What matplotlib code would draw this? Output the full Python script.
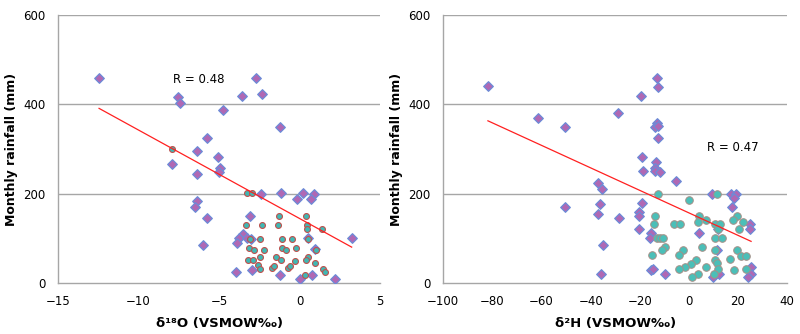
import numpy as np
import matplotlib
matplotlib.use("Agg")
import matplotlib.pyplot as plt

# Data (x = isotope value, y = monthly rainfall mm)
# ------------------------------------------------------------------------------
o18_diam_x = [-12.45, -7.53, -7.40, -2.68, -3.57, -2.33, -4.77, -1.21, -5.72, -6.37,
              -5.04, -7.92, -4.96, -5.00, -6.39, -2.37, -1.17, 0.20, -0.13, 0.92,
              0.69, -6.37, -6.49, -5.72, -3.06, -5.97, -3.51, -3.76, -3.88, -3.24,
              -3.01, 0.55, 0.98, 3.24, -3.94, -2.95, -1.19, 0.05, 0.80, 2.18]
o18_diam_y = [460, 416, 404, 459, 419, 424, 388, 350, 324, 295,
              282, 267, 258, 248, 245, 199, 201, 201, 187, 199,
              187, 184, 171, 146, 150, 84, 109, 101, 89, 101,
              99, 100, 76, 101, 25, 29, 19, 8, 19, 8]

o18_circ_x = [-7.92, -3.24, -2.97, -1.29, 0.42, -3.32, -2.35, -1.34, 0.47, 0.49,
              1.42, -3.07, -2.43, -1.11, -0.47, 0.51, -3.12, -2.81, -2.22, -1.11,
              -0.84, -0.22, 1.02, -2.43, -1.44, 0.55, -3.22, -2.91, -1.17, -0.30,
              0.40, 0.96, -2.60, -2.45, -1.73, -1.60, -0.71, -0.59, 0.36, 1.48, 1.56]
o18_circ_y = [301, 201, 201, 150, 150, 130, 130, 130, 130, 122,
              122, 99, 99, 99, 99, 99, 79, 75, 75, 79,
              75, 79, 75, 58, 59, 59, 51, 51, 51, 50,
              51, 45, 40, 31, 34, 38, 34, 38, 19, 31, 25]

h2_diam_x = [-81.8, -61.4, -50.5, -28.7, -19.4, -12.8, -12.5, -12.8, -13.9, -12.5,
             -12.5, -19.2, -13.2, -13.9, -13.9, -18.5, -11.7, -5.2, -37.1, -35.2,
             -36.1, -19.2, -50.4, -37.1, -20.3, -20.3, -28.3, -20.3, -15.3, -15.7,
             -34.8, 4.3, 9.3, 17.2, 19.1, 18.3, 17.4, 24.9, 24.9, 12.0,
             11.4, -15.5, -14.6, -9.7, -35.7, 10.0, 12.4, 25.3, 25.3, 24.0]
h2_diam_y = [441, 370, 350, 381, 418, 460, 438, 358, 349, 351,
             325, 283, 271, 258, 250, 250, 248, 228, 225, 210,
             178, 180, 170, 154, 160, 150, 146, 120, 111, 101,
             86, 113, 199, 200, 200, 190, 170, 133, 122, 122,
             75, 29, 31, 21, 21, 13, 20, 36, 21, 13]

h2_circ_x = [-12.4, 11.3, 0.1, -13.9, -14.2, -6.0, -3.5, 4.3, 3.6, 7.0,
             10.7, 12.7, 11.8, 19.7, 18.1, 22.2, 20.4, 10.7, 13.5, -13.1,
             -11.7, -10.4, -9.7, -10.8, -2.5, 5.5, 10.7, 19.7, 21.0, 23.4,
             16.8, -15.1, -4.1, 2.8, 0.9, -1.5, -4.1, 6.9, 10.7, 11.4,
             11.8, 18.5, 23.1, 3.6, 1.4, 10.4]
h2_circ_y = [200, 200, 186, 150, 132, 132, 132, 151, 136, 141,
             132, 132, 120, 150, 141, 136, 120, 100, 100, 100,
             100, 100, 81, 75, 75, 81, 75, 75, 61, 61,
             54, 62, 62, 51, 42, 36, 32, 36, 51, 44,
             32, 28, 32, 20, 13, 20]

# linear trend (slope, intercept) and correlation labels
trend_o18 = (-19.8, 144.5)
trend_h2 = (-2.52, 157.0)
r_o18 = "R = 0.48"
r_h2 = "R = 0.47"

# Style
# ------------------------------------------------------------------------------
diam_face = "#B068B4"
diam_edge = "#6C8CD8"
grid_col = "#A6A6A6"

fig = plt.figure(figsize=(8.0, 3.34), dpi=100)
ax1 = fig.add_axes([0.0725, 0.1527, 0.4025, 0.8023])
ax2 = fig.add_axes([0.554, 0.1527, 0.430, 0.8023])


def style_axes(ax, xlim, xticks, xlabel):
    ax.set_xlim(*xlim)
    ax.set_ylim(0, 600)
    ax.set_xticks(xticks)
    ax.set_yticks([0, 200, 400, 600])
    for y in [200, 400, 600]:
        ax.axhline(y, color=grid_col, lw=1.0, zorder=0)
    for s in ["top", "right"]:
        ax.spines[s].set_visible(False)
    ax.spines["left"].set_color(grid_col)
    ax.spines["bottom"].set_color(grid_col)
    ax.spines["left"].set_linewidth(1.0)
    ax.spines["bottom"].set_linewidth(1.0)
    ax.tick_params(length=0, labelsize=8.5, pad=9)
    ax.set_xlabel(xlabel, fontsize=9.5, fontweight="bold", labelpad=6)
    ax.set_ylabel("Monthly rainfall (mm)", fontsize=9, fontweight="bold", labelpad=4)


# left panel: d18O
style_axes(ax1, (-15, 5), [-15, -10, -5, 0, 5], "δ¹⁸O (VSMOW‰)")
ax1.scatter(o18_diam_x, o18_diam_y, marker="D", s=24, facecolor=diam_face,
            edgecolor=diam_edge, linewidth=0.9, zorder=3)
ax1.scatter(o18_circ_x, o18_circ_y, marker="o", s=18, facecolor="#3FB8B4",
            edgecolor="#C0504D", linewidth=0.8, zorder=4)
allx = np.array(o18_diam_x + o18_circ_x)
xs = np.array([allx.min(), allx.max()])
ax1.plot(xs, trend_o18[0] * xs + trend_o18[1], color="#FF2020", lw=0.9, zorder=5)
ax1.text(-6.24, 455, r_o18, fontsize=8.5, ha="center", va="center")

# right panel: d2H
style_axes(ax2, (-100, 40), [-100, -80, -60, -40, -20, 0, 20, 40], "δ²H (VSMOW‰)")
ax2.scatter(h2_diam_x, h2_diam_y, marker="D", s=24, facecolor=diam_face,
            edgecolor=diam_edge, linewidth=0.9, zorder=3)
ax2.scatter(h2_circ_x, h2_circ_y, marker="o", s=30, facecolor="#4BBFB8",
            edgecolor="#A49088", linewidth=0.7, zorder=4)
allx = np.array(h2_diam_x + h2_circ_x)
xs = np.array([allx.min(), allx.max()])
ax2.plot(xs, trend_h2[0] * xs + trend_h2[1], color="#FF2020", lw=0.9, zorder=5)
ax2.text(17.8, 303, r_h2, fontsize=8.5, ha="center", va="center")

fig.savefig("out.png", dpi=100)
